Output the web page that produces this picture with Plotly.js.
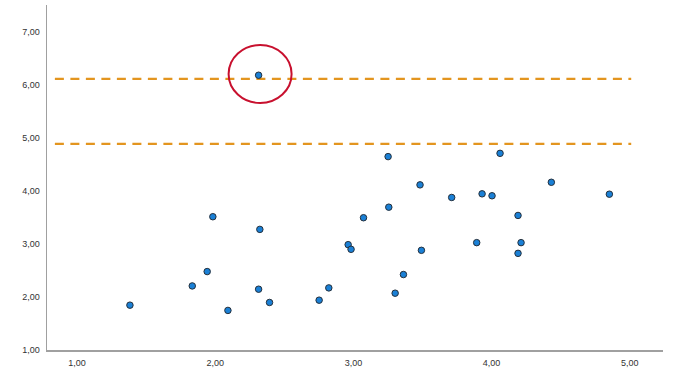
<!DOCTYPE html>
<html>
<head>
<meta charset="utf-8">
<script src="https://cdn.plot.ly/plotly-3.0.1.min.js"></script>
<style>html,body{margin:0;padding:0;background:#fff;}#chart{width:698px;height:384px;}</style>
</head>
<body>
<div id="chart"></div>
<script>
// Scatter values
const xValues = [1.383, 1.834, 1.942, 1.983, 2.092, 2.323, 2.314, 2.393, 2.752, 2.822,
                 2.962, 2.983, 3.073, 3.256, 3.251, 4.061, 3.482, 4.432, 3.711, 3.931,
                 4.003, 4.852, 4.191, 3.892, 4.213, 3.492, 4.191, 3.362, 3.302, 2.314];
const yValues = [1.846, 2.209, 2.480, 3.515, 1.747, 3.276, 2.147, 1.897, 1.940, 2.172,
                 2.988, 2.900, 3.496, 3.695, 4.649, 4.711, 4.116, 4.165, 3.878, 3.947,
                 3.910, 3.940, 3.539, 3.026, 3.026, 2.881, 2.824, 2.424, 2.072, 6.185];
// Horizontal reference lines
const refLineY = [6.115, 4.89];
const refLineX = [0.84, 5.01];
// Highlighted point (circled outlier)
const circledPoint = {x: 2.314, y: 6.185};
// Tick values
const xTicks = [1, 2, 3, 4, 5];
const yTicks = [1, 2, 3, 4, 5, 6, 7];

const traces = refLineY.map(v => ({
  type: 'scatter', mode: 'lines',
  x: refLineX, y: [v, v],
  line: {color: '#E3951F', width: 2.2, dash: '9px,6.5px'},
  hoverinfo: 'skip', showlegend: false
}));
traces.push({
  type: 'scatter', mode: 'markers',
  x: xValues, y: yValues,
  marker: {size: 6.5, color: '#1A80D6', line: {color: '#25303c', width: 1}},
  showlegend: false
});

const layout = {
  width: 698, height: 384,
  margin: {l: 47, r: 35, t: 5, b: 34},
  paper_bgcolor: '#fff', plot_bgcolor: '#fff',
  separators: ',.',
  font: {family: 'Liberation Sans, Arial, sans-serif', size: 9, color: '#333'},
  xaxis: {
    range: [0.783, 5.24], tickvals: xTicks, tickformat: '.2f',
    showgrid: false, zeroline: false, showline: true,
    linecolor: '#a0a0a0', linewidth: 1.5, ticks: '', ticklabelstandoff: 4
  },
  yaxis: {
    range: [1, 7.51], tickvals: yTicks, tickformat: '.2f',
    showgrid: false, zeroline: false, showline: true,
    linecolor: '#a0a0a0', linewidth: 1.5, ticks: '', ticklabelstandoff: 4
  },
  shapes: [{
    type: 'circle', xref: 'x', yref: 'y',
    xsizemode: 'pixel', ysizemode: 'pixel',
    xanchor: circledPoint.x, yanchor: circledPoint.y,
    x0: -30, x1: 33, y0: -27.7, y1: 30.3,
    line: {color: '#C8102E', width: 2}
  }]
};

Plotly.newPlot('chart', traces, layout, {displayModeBar: false, staticPlot: true});
</script>
</body>
</html>
